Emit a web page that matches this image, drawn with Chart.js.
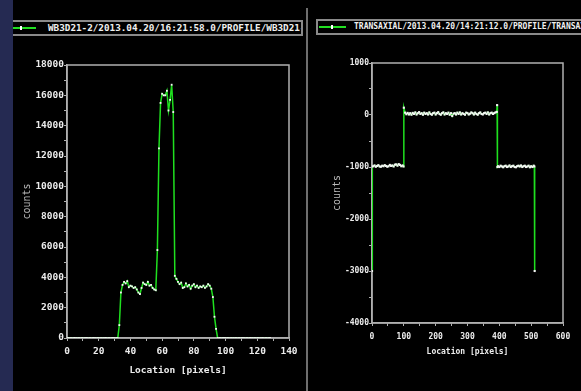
<!DOCTYPE html>
<html>
<head>
<meta charset="utf-8">
<script src="https://cdn.jsdelivr.net/npm/chart.js@4.4.0/dist/chart.umd.min.js"></script>
<style>
  html, body { margin: 0; padding: 0; background: #000; width: 581px; height: 391px; overflow: hidden; }
  #strip { position: absolute; left: 0; top: 0; width: 13px; height: 391px; background: #252a52; }
  #sep { position: absolute; left: 306px; top: 8px; width: 2px; height: 383px; background: #6e6e6e; }
  .legend { position: absolute; box-sizing: border-box; height: 16px; border: 2px solid #8a8a8a; overflow: hidden; white-space: nowrap;
            font-family: "DejaVu Sans Mono", monospace; font-weight: bold; color: #f0f0f0; }
  .legend .sample { position: absolute; top: 5px; height: 2px; background: #22e022; }
  .legend .mark { position: absolute; top: 4px; width: 2px; height: 4px; background: #fff; }
  .legend .txt { position: absolute; top: 0; line-height: 12px; }
  canvas { position: absolute; }
</style>
</head>
<body>
<div id="strip"></div>
<div id="sep"></div>

<div class="legend" style="left:13px; top:20px; width:290px; border-left:none;">
  <div class="sample" style="left:0; width:23px;"></div>
  <div class="mark" style="left:7px;"></div>
  <div class="txt" style="left:35px; font-size:9.3px;">WB3D21-2/2013.04.20/16:21:58.0/PROFILE/WB3D21-2</div>
</div>
<div class="legend" style="left:316px; top:19px; width:280px; border-right:none;">
  <div class="sample" style="left:1px; width:27px;"></div>
  <div class="mark" style="left:13px;"></div>
  <div class="txt" style="left:36px; font-size:8px;">TRANSAXIAL/2013.04.20/14:21:12.0/PROFILE/TRANSAXIAL</div>
</div>

<canvas id="left" width="290" height="351" style="left:13px; top:40px;"></canvas>
<canvas id="right" width="271" height="351" style="left:310px; top:40px;"></canvas>

<script>
// WB3D21-2 profile, one value per pixel location 0..128
let leftCounts = [
  0, 0, 0, 0, 0, 0, 0, 0, 0, 0,
  0, 0, 0, 0, 0, 0, 0, 0, 0, 0,
  0, 0, 0, 0, 0, 0, 0, 0, 0, 0,
  0, 0, 0, 850, 3000,
  3500, 3700, 3600, 3750, 3350, 3450, 3400, 3300, 3350, 3200, 3000,
  2900, 3300, 3650, 3550, 3500, 3700, 3450, 3500, 3300, 3200, 3150,
  5800, 12500, 15500, 16100, 16000, 16000, 16300, 15000, 15700, 16700, 14900,
  4100, 3900, 3700, 3550, 3650, 3300, 3350, 3600, 3400, 3500, 3250, 3450,
  3550, 3350, 3450, 3300, 3400, 3350, 3450, 3300, 3400, 3550, 3450, 3250,
  2700, 1400, 600,
  0, 0, 0, 0, 0, 0, 0, 0, 0, 0,
  0, 0, 0, 0, 0, 0, 0, 0, 0, 0,
  0, 0, 0, 0, 0, 0, 0, 0, 0, 0,
  0, 0, 0, 0
];

// TRANSAXIAL profile, read every few pixels
let transLoc = [
  0, 1, 4, 8, 12, 16, 20, 24, 28, 32, 36, 40, 44, 48, 52, 56, 60, 64, 68, 72, 76, 80, 84, 88, 92, 96, 99,
  100, 104, 108, 112, 116, 120, 124, 128, 132, 136, 140, 144, 148, 152, 156, 160, 164, 168, 172, 176,
  180, 184, 188, 192, 196, 200, 204, 208, 212, 216, 220, 224, 228, 232, 236, 240, 244, 248, 252, 256,
  260, 264, 268, 272, 276, 280, 284, 288, 292, 296, 300, 304, 308, 312, 316, 320, 324, 328, 332, 336,
  340, 344, 348, 352, 356, 360, 364, 368, 372, 376, 380, 384, 388, 392, 393,
  394, 396, 400, 404, 408, 412, 416, 420, 424, 428, 432, 436, 440, 444, 448, 452, 456, 460, 464, 468,
  472, 476, 480, 484, 488, 492, 496, 500, 504, 508, 510, 511
];
let transCounts = [
  -3000, -990, -985, -970, -995, -980, -965, -990, -995, -975, -985, -965, -980, -995, -985, -960, -980, -970, -990, -955, -950, -975, -945, -960, -985, -970, -990,
  140, 45, 15, 40, 10, 35, 5, 40, 20, 50, 10, 35, 55, 20, 35, 5, 45, 20, 35, 10,
  50, 20, 5, 35, 45, 10, 35, 55, 20, 5, 35, 50, 10, 35, 20, 45, 5, 35, -20, 25,
  35, 10, 45, 20, 50, 10, 35, 20, 5, 45, 35, 10, 25, 50, 35, 10, 45, 20, 5, 35,
  50, 20, 10, 35, 45, 20, 50, 10, 35, 45, 20, 35, 50, 60, 190,
  -1000, -985, -1000, -975, -990, -1005, -985, -975, -1000, -990, -970, -1000, -985, -975, -1000, -1005, -985, -975, -990, -970,
  -1000, -985, -975, -1000, -990, -975, -1005, -985, -1000, -975, -990, -3000
];

let axisColor = '#b0b0b0';
let labelColor = '#ececec';
let monoFont = '"DejaVu Sans Mono", monospace';

// frame around the plot area
let framePlugin = {
  id: 'frame',
  beforeDatasetsDraw(chart) {
    let a = chart.chartArea;
    let ctx = chart.ctx;
    ctx.save();
    ctx.strokeStyle = axisColor;
    ctx.lineWidth = 1.5;
    ctx.strokeRect(a.left, a.top, a.right - a.left, a.bottom - a.top);
    ctx.restore();
  }
};

function makeChart(id, points, o) {
  return new Chart(document.getElementById(id), {
    type: 'line',
    data: {
      datasets: [{
        data: points,
        borderColor: '#1fe01f',
        borderWidth: 1.5,
        pointStyle: 'rect',
        pointRadius: o.pointRadius,
        pointBackgroundColor: '#f4f4f4',
        pointBorderWidth: 0,
        tension: 0
      }]
    },
    options: {
      responsive: false,
      animation: false,
      layout: { padding: o.padding },
      plugins: { legend: { display: false }, tooltip: { enabled: false } },
      scales: {
        x: {
          type: 'linear', min: o.xMin, max: o.xMax,
          ticks: {
            stepSize: o.xStep, autoSkip: false, maxRotation: 0, padding: o.tickPad,
            color: labelColor, font: { family: monoFont, size: o.tickSize, weight: 'bold' },
            callback: v => (v % o.xLabelStep === 0 ? v : '')
          },
          grid: { drawOnChartArea: false, tickLength: 3, color: axisColor },
          border: { color: axisColor, width: 1.5 },
          title: {
            display: true, text: 'Location [pixels]', color: labelColor,
            font: { family: monoFont, size: o.titleSize, weight: 'bold' },
            padding: { top: 0, bottom: o.xTitlePad }
          },
          afterFit: s => { s.height = o.xHeight; }
        },
        y: {
          min: o.yMin, max: o.yMax,
          ticks: {
            stepSize: o.yStep, autoSkip: false, padding: 0,
            color: labelColor, font: { family: monoFont, size: o.tickSize, weight: 'bold' },
            callback: v => (v % o.yLabelStep === 0 ? v : '')
          },
          grid: { drawOnChartArea: false, tickLength: 3, color: axisColor },
          border: { color: axisColor, width: 1.5 },
          title: {
            display: true, text: 'counts', color: '#b8b8b8',
            font: { family: monoFont, size: 10 },
            padding: { top: o.yTitlePad, bottom: 0 }
          },
          afterFit: s => { s.width = o.yWidth; }
        }
      }
    },
    plugins: [framePlugin]
  });
}

let leftChart = makeChart('left', leftCounts.map((v, i) => ({ x: i, y: v })), {
  padding: { left: 0, right: 14, top: 25, bottom: 0 },
  xMin: 0, xMax: 140, xStep: 10, xLabelStep: 20,
  yMin: 0, yMax: 18000, yStep: 1000, yLabelStep: 2000,
  tickSize: 9.5, titleSize: 9.5, tickPad: 5,
  xHeight: 53, yWidth: 54, xTitlePad: 15, yTitlePad: 8,
  pointRadius: 1.3
});

let rightChart = makeChart('right', transLoc.map((x, i) => ({ x: x, y: transCounts[i] })), {
  padding: { left: 0, right: 18, top: 23, bottom: 0 },
  xMin: 0, xMax: 600, xStep: 50, xLabelStep: 100,
  yMin: -4000, yMax: 1000, yStep: 500, yLabelStep: 1000,
  tickSize: 8, titleSize: 8, tickPad: 6,
  xHeight: 68, yWidth: 62, xTitlePad: 34, yTitlePad: 21,
  pointRadius: 1.5
});
</script>
</body>
</html>
